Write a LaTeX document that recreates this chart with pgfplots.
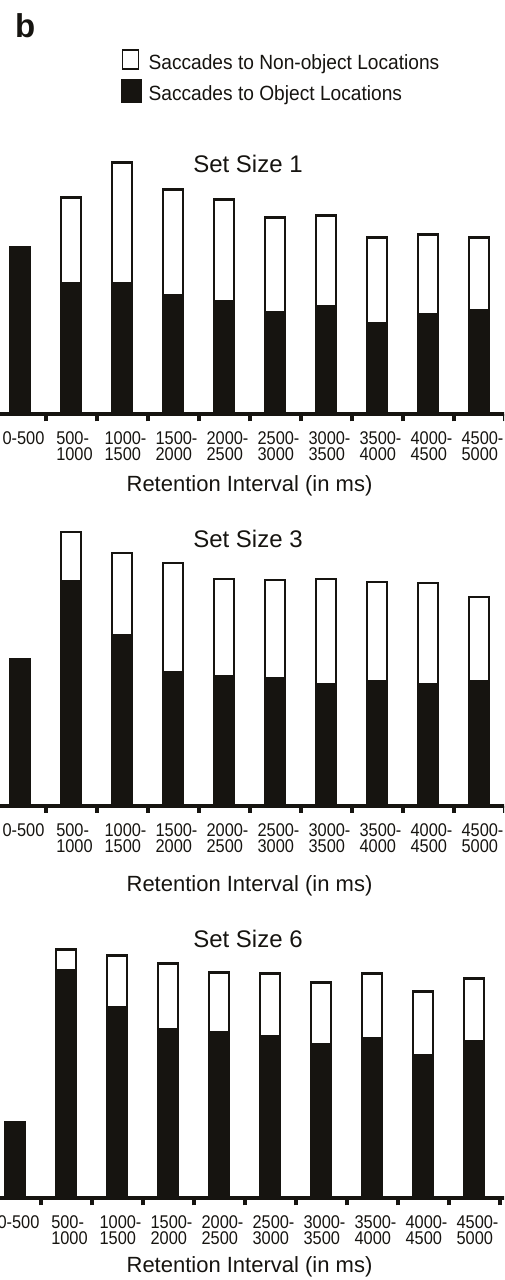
\documentclass[border=0pt]{standalone}
\usepackage{pgfplots}
\usepackage{pgfplotstable}
\pgfplotsset{compat=1.18}
\usepackage{fontspec}
\setmainfont{Liberation Sans}
\newfontfamily\narrowsans[FakeStretch=0.89]{Liberation Sans}
\newfontfamily\legendsans[FakeStretch=0.93]{Liberation Sans}
\definecolor{ink}{RGB}{22,20,16}

\pgfplotstableread{
x black white
0 167 0
1 131 86
2 131 121
3 119 106
4 113 102
5 102 95
6 108 91
7 91 86
8 100 80
9 104 73
}\panelA

\pgfplotstableread{
x black white
0 147 0
1 225 49
2 171 82
3 134 109
4 130 97
5 128 98
6 122 105
7 125 99
8 122 101
9 125 84
}\panelB

\pgfplotstableread{
x black white
0 76 0
1 228 21
2 191 52
3 169 66
4 166 60
5 162 63
6 154 62
7 160 65
8 143 64
9 157 63
}\panelC

\pgfplotsset{
  panel/.style={
    anchor=south west,
    scale only axis,
    height=150pt,
    xmin=-0.5, ymin=0, ymax=300,
    ybar stacked, bar width=10pt,
    axis y line=none, axis x line*=bottom,
    x axis line style={line width=2pt, -, ink},
    xtick={0,...,9},
    xticklabels={0-500, 500-\\1000, 1000-\\1500, 1500-\\2000, 2000-\\2500, 2500-\\3000, 3000-\\3500, 3500-\\4000, 4000-\\4500, 4500-\\5000},
    major tick length=0pt,
    major x tick style={draw=none},
    minor xtick={-0.5,0.5,...,9.5},
    minor tick length=3.5pt,
    minor x tick style={line width=2pt, ink},
    xtick align=outside,
    xticklabel style={font=\narrowsans\fontsize{9.2}{8}\selectfont, text=ink, align=left, anchor=north, inner sep=0pt, yshift=-8.5pt, xshift=1.75pt},
    clip=false,
  },
  blackbar/.style={fill=ink, draw=ink, line width=1.2pt},
  whitebar/.style={fill=white, draw=ink, line width=1.2pt},
}

\begin{document}
\begin{tikzpicture}
\useasboundingbox (0,0) rectangle (252pt,640pt);
\clip (0,0) rectangle (252pt,640pt);

% panel 1
\begin{axis}[panel, at={(-2.75pt,432.75pt)}, width=255pt, xmax=9.5,
  legend style={at={(0.248,1.218)}, anchor=north west, draw=none, fill=none,
    font=\legendsans\fontsize{10.3}{12}\selectfont, text=ink, inner sep=0pt, row sep=1.5pt,
    nodes={inner sep=2pt}},
  legend cell align=left]
\addplot[blackbar, forget plot] table[x=x, y=black] {\panelA};
\addplot[whitebar, forget plot] table[x=x, y=white] {\panelA};
\addlegendimage{legend image code/.code={\draw[fill=white, draw=ink, line width=0.8pt] (0.4pt,-3pt) rectangle (8.4pt,6.5pt);}}
\addlegendentry{\hspace{1.5pt}Saccades to Non-object Locations}
\addlegendimage{legend image code/.code={\fill[ink] (0pt,-3.8pt) rectangle (9.7pt,7.4pt);}}
\addlegendentry{\hspace{1.5pt}Saccades to Object Locations}
\end{axis}

% panel 2
\begin{axis}[panel, at={(-2.75pt,237pt)}, width=255pt, xmax=9.5]
\addplot[blackbar] table[x=x, y=black] {\panelB};
\addplot[whitebar] table[x=x, y=white] {\panelB};
\end{axis}

% panel 3
\begin{axis}[panel, at={(-5.25pt,40.75pt)}, width=257.55pt, xmax=9.6]
\addplot[blackbar] table[x=x, y=black] {\panelC};
\addplot[whitebar] table[x=x, y=white] {\panelC};
\end{axis}

% titles and labels
\node[anchor=base, font=\fontsize{12}{14}\selectfont, text=ink, inner sep=0pt] at (124pt,553.5pt) {Set Size 1};
\node[anchor=base, font=\fontsize{12}{14}\selectfont, text=ink, inner sep=0pt] at (124pt,366pt) {Set Size 3};
\node[anchor=base, font=\fontsize{12}{14}\selectfont, text=ink, inner sep=0pt] at (124pt,166pt) {Set Size 6};
\node[anchor=base, font=\fontsize{11}{13}\selectfont, text=ink, inner sep=0pt] at (124.75pt,394pt) {Retention Interval (in ms)};
\node[anchor=base, font=\fontsize{11}{13}\selectfont, text=ink, inner sep=0pt] at (124.75pt,194pt) {Retention Interval (in ms)};
\node[anchor=base, font=\fontsize{11}{13}\selectfont, text=ink, inner sep=0pt] at (124.75pt,3.5pt) {Retention Interval (in ms)};
\node[anchor=base west, font=\bfseries\fontsize{16.5}{18}\selectfont, text=ink, inner sep=0pt] at (7.4pt,621.4pt) {b};
\end{tikzpicture}
\end{document}
